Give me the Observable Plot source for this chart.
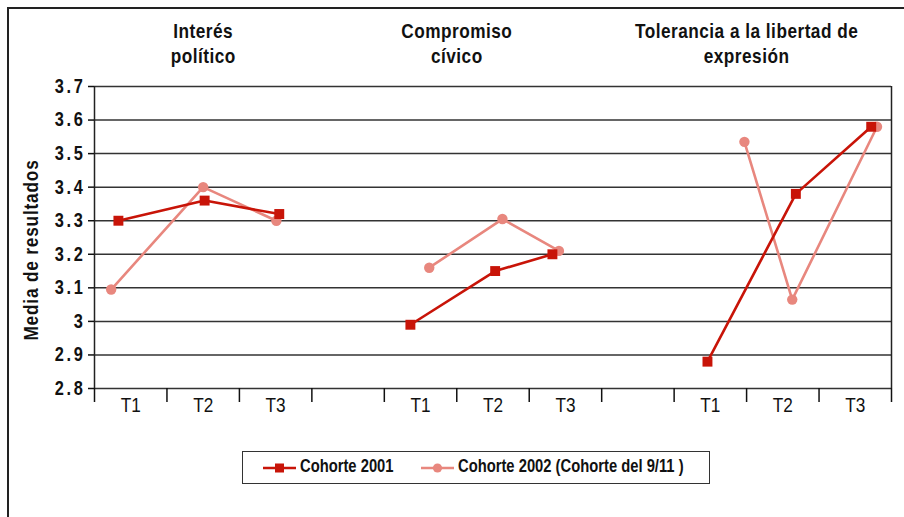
<!DOCTYPE html>
<html>
<head>
<meta charset="utf-8">
<script src="https://cdn.jsdelivr.net/npm/d3@7"></script>
<script src="https://cdn.jsdelivr.net/npm/@observablehq/plot@0.6"></script>
<style>
  html, body { margin: 0; padding: 0; background: #fff; }
  body { width: 904px; height: 517px; overflow: hidden; position: relative; font-family: "Liberation Sans", Arial, sans-serif; }
  #frame { position: absolute; left: 7px; top: 7px; width: 1000px; height: 600px; border-left: 2px solid #222; border-top: 2px solid #222; }
  #chart { position: absolute; left: 0; top: 0; }
  #ylabel { position: absolute; left: 31px; top: 250px; transform: translate(-50%, -50%) rotate(-90deg) scaleX(0.82); white-space: nowrap; font-weight: bold; font-size: 21px; letter-spacing: 1px; color: #111; }
  #legend { position: absolute; left: 242px; top: 451px; width: 466px; height: 31px; border: 1.5px solid #333; font-weight: bold; font-size: 18px; color: #111; }
  #legend svg { position: absolute; top: 9px; }
  #legend span { position: absolute; top: 4px; white-space: nowrap; display: inline-block; transform: scaleX(0.82); transform-origin: left center; }
</style>
</head>
<body>
<div id="frame"></div>
<div id="chart"></div>
<div id="ylabel">Media de resultados</div>
<div id="legend"></div>
<script>
// ---- data ----
const groupTitles = ["Interés\npolítico", "Compromiso\ncívico", "Tolerancia a la libertad de\nexpresión"];
const timeLabels = ["T1", "T2", "T3"];
const seriesNames = ["Cohorte 2001", "Cohorte 2002 (Cohorte del 9/11 )"];
// values per group (T1,T2,T3) x 3 groups
const values2001 = [3.30, 3.36, 3.32, 2.99, 3.15, 3.20, 2.88, 3.38, 3.58];
const values2002 = [3.095, 3.40, 3.30, 3.16, 3.305, 3.21, 3.535, 3.065, 3.58];
// horizontal placement of each point along the category axis (category units, as drawn)
const pos2001 = [-0.17, 1.02, 2.05, 3.86, 5.03, 5.82, 7.96, 9.18, 10.22];
const pos2002 = [-0.27, 1.00, 2.01, 4.12, 5.13, 5.91, 8.47, 9.13, 10.30];
const yTicks = [2.8, 2.9, 3.0, 3.1, 3.2, 3.3, 3.4, 3.5, 3.6, 3.7];

const color2001 = "#c81408";
const color2002 = "#e8877e";
const NARROW = 0.82;

function rows(values, pos, series) {
  return values.map((v, i) => ({series, group: Math.floor(i / 3), time: timeLabels[i % 3], pos: pos[i], value: v}));
}
const rows2001 = rows(values2001, pos2001, seriesNames[0]);
const rows2002 = rows(values2002, pos2002, seriesNames[1]);

// category slots: 3 per group plus an empty slot between groups
const slotCenters = [];
groupTitles.forEach((g, gi) => timeLabels.forEach((t, ti) => slotCenters.push(gi * 4 + ti)));
const slotEdges = d3.range(-0.5, 11, 1);
const titleRows = groupTitles.map((t, gi) => ({title: t, x: gi === 0 ? 1 : gi * 4 + 0.5}));

const chart = Plot.plot({
  width: 904,
  height: 420,
  marginLeft: 94,
  marginRight: 13,
  marginTop: 86,
  marginBottom: 32,
  x: {domain: [-0.5, 10.5], label: null},
  y: {domain: [2.8, 3.7], label: null},
  style: {fontFamily: "'Liberation Sans', Arial, sans-serif", background: "transparent", overflow: "visible", color: "#111"},
  marks: [
    Plot.ruleY(yTicks, {stroke: "#333", strokeWidth: 1.5}),
    Plot.ruleX([-0.5, 10.5], {stroke: "#222", strokeWidth: 1.5}),
    Plot.axisY({ticks: yTicks, tickSize: 6, tickPadding: 3, tickFormat: d => d === 3 ? "3" : d.toFixed(1), fontSize: 20, fontWeight: "bold", label: null, strokeWidth: 1.5}),
    Plot.axisX({ticks: slotEdges, tickSize: 14, tickFormat: () => "", label: null, strokeWidth: 1.5}),
    Plot.axisX({ticks: slotCenters, tickSize: 0, tickPadding: 9, tickFormat: d => timeLabels[d % 4], fontSize: 21, label: null}),
    Plot.text(titleRows, {x: "x", text: "title", frameAnchor: "top", lineAnchor: "top", dy: -66, fontSize: 21, fontWeight: "bold", lineHeight: 1.19, fill: "#111"}),
    Plot.line(rows2002, {x: "pos", y: "value", z: "group", stroke: color2002, strokeWidth: 2.6}),
    Plot.dot(rows2002, {x: "pos", y: "value", symbol: "circle", r: 5.2, fill: color2002}),
    Plot.line(rows2001, {x: "pos", y: "value", z: "group", stroke: color2001, strokeWidth: 2.6}),
    Plot.dot(rows2001, {x: "pos", y: "value", symbol: "square", r: 5.6, fill: color2001})
  ]
});
document.getElementById("chart").appendChild(chart);
// condensed look: narrow each text around its own anchor point
chart.querySelectorAll('g[aria-label="y-axis tick label"] text').forEach(t => t.setAttribute("letter-spacing", "3.2"));
chart.querySelectorAll('g[aria-label="text"] text').forEach(t => t.setAttribute("letter-spacing", "0.6"));
chart.querySelectorAll("text").forEach(t => {
  const tr = t.getAttribute("transform");
  if (tr) t.setAttribute("transform", tr + ` scale(${NARROW},1)`);
});

// legend
const legend = d3.select("#legend");
const items = [
  {name: seriesNames[0], color: color2001, sym: "square", sx: 20, tx: 57},
  {name: seriesNames[1], color: color2002, sym: "circle", sx: 178, tx: 215}
];
items.forEach(it => {
  const s = legend.append("svg").attr("width", 33).attr("height", 14).style("left", it.sx + "px");
  s.append("line").attr("x1", 0).attr("x2", 33).attr("y1", 7).attr("y2", 7).attr("stroke", it.color).attr("stroke-width", 2.6);
  if (it.sym === "square") s.append("rect").attr("x", 12).attr("y", 2.5).attr("width", 9).attr("height", 9).attr("fill", it.color);
  else s.append("circle").attr("cx", 16.5).attr("cy", 7).attr("r", 4.6).attr("fill", it.color);
  legend.append("span").style("left", it.tx + "px").text(it.name);
});
</script>
</body>
</html>
